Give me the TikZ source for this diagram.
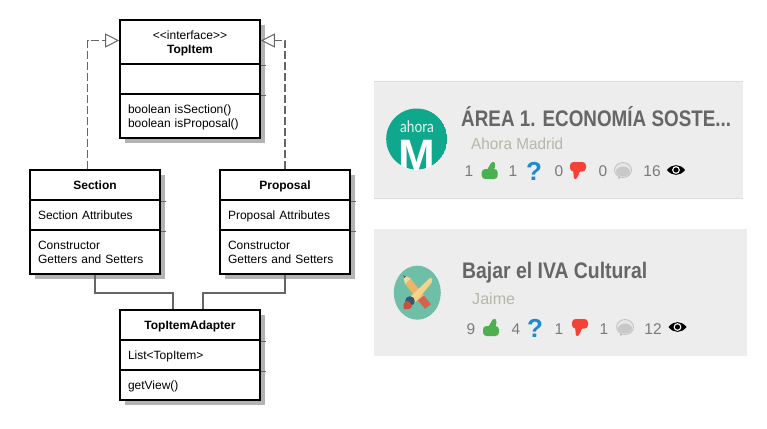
\documentclass[tikz,border=0pt]{standalone}
\usepackage{fontspec}
\usepackage{graphicx}
\setmainfont{Liberation Sans}
\newfontfamily\latofont{Lato}
\usetikzlibrary{arrows.meta,shadows,calc}
\definecolor{cardbg}{HTML}{EDEDED}
\definecolor{cardline}{HTML}{DCDCDC}
\definecolor{shadowgray}{HTML}{B3B3B3}
\definecolor{linkgray}{HTML}{666666}
\definecolor{titlegray}{HTML}{666666}
\definecolor{authorgray}{HTML}{B5B8A6}
\definecolor{statgray}{HTML}{7A7A7A}
\definecolor{upgreen}{HTML}{4CAF50}
\definecolor{askblue}{HTML}{1B8BCB}
\definecolor{downred}{HTML}{F44336}
\definecolor{ahoragreen}{HTML}{0FA88C}
\definecolor{jaimegreen}{HTML}{6FBFA8}
\definecolor{bubbleface}{HTML}{E6E6E6}
\definecolor{bubbleedge}{HTML}{BDBDBD}
\definecolor{bubbleinner}{HTML}{C8C8C8}
\definecolor{pencilbody}{HTML}{EDB46A}
\definecolor{pencilwood}{HTML}{F3D9A0}
\definecolor{pencilend}{HTML}{D8604E}
\definecolor{brushhandle}{HTML}{F5D38A}
\definecolor{brushnavy}{HTML}{3A5570}
\definecolor{brushred}{HTML}{C9503F}
\tikzset{
  x=1pt,y=-1pt,
  umlcell/.style={draw=black,line width=1.7pt,fill=white,inner xsep=8pt,inner ysep=0pt,
    minimum width=#1,text width=#1-16pt,font=\fontsize{12}{14}\selectfont,align=left,
    general shadow={fill=shadowgray,shadow xshift=5pt,shadow yshift=-5pt}},
  umlhead/.style={umlcell=#1,align=center},
  oneline/.style={text height=8.6pt,text depth=0pt},
  twolines/.style={text height=12pt,text depth=17pt},
  realizes/.style={draw=linkgray,line width=1.4pt,dash pattern=on 8pt off 3pt,
    -{Triangle[open,length=14pt,width=14pt,fill=white,line width=1pt]}},
  assoc/.style={draw=linkgray,line width=1.3pt},
  tick/.style={draw=linkgray,line width=.5pt},
  cardtitle/.style={anchor=base west,inner sep=0pt,text=titlegray,font=\fontsize{22.5}{26}\selectfont\bfseries},
  cardauthor/.style={anchor=base west,inner sep=0pt,text=authorgray,font=\fontsize{16}{18}\selectfont},
  stat/.style={anchor=base,inner sep=0pt,text=statgray,font=\fontsize{15.5}{18}\selectfont},
  ask/.style={anchor=base,inner sep=0pt,text=askblue,font=\fontsize{26}{28}\selectfont\bfseries},
  iconup/.pic={
    \fill[upgreen,rounded corners=3.5] (-8,-1.5) rectangle (8,8.5);
    \fill[upgreen,rounded corners=1] (-3,0) -- (2,-8.5) -- (5,-8.5) -- (5.5,-4) -- (4,0) -- cycle;
  },
  icondown/.pic={
    \fill[downred,rounded corners=3.5] (-8,-8.5) rectangle (8,1);
    \fill[downred,rounded corners=1] (-5,-1) -- (-4,8.5) -- (-1.5,8.5) -- (3,-1) -- cycle;
  },
  iconbubble/.pic={
    \fill[bubbleedge] (-4,4) -- (-5,9) -- (0,6) -- cycle;
    \draw[fill=bubbleface,draw=bubbleedge,line width=.7pt] (0,0) ellipse [x radius=8.5,y radius=7.5];
    \fill[bubbleinner] (0,1.5) ellipse [x radius=7,y radius=5];
  },
  iconeye/.pic={
    \fill[black] (-9,0) .. controls (-4,-6.5) and (4,-6.5) .. (9,0) .. controls (4,6.5) and (-4,6.5) .. (-9,0) -- cycle;
    \fill[white] (0,0) circle [radius=3.9];
    \fill[black] (0,0) circle [radius=2.6];
  },
}
\begin{document}
\begin{tikzpicture}
\useasboundingbox (0,0) rectangle (767,428);
\fill[white] (0,0) rectangle (767,428);
% cards
\fill[cardbg] (374,81) rectangle (743,199);
\draw[cardline,line width=1.2pt] (374,81.5) -- (743,81.5);
\draw[cardline,line width=1.6pt] (374,198.5) -- (743,198.5);
\fill[cardbg] (374,229) rectangle (747,356);
% UML classes
\node[umlhead=140pt,twolines,minimum height=44pt] (top-h) at (190,42) {<{}<interface>{}>\\\bfseries TopItem};
\node[umlcell=140pt,minimum height=30pt] (top-a) at (190,79) {};
\node[umlcell=140pt,twolines,minimum height=44pt] (top-m) at (190,116) {boolean isSection()\\boolean isProposal()};
\node[umlhead=130pt,oneline,minimum height=30pt] (sec-h) at (95,185) {\bfseries Section};
\node[umlcell=130pt,oneline,minimum height=30pt] (sec-a) at (95,215) {Section Attributes};
\node[umlcell=130pt,twolines,minimum height=44pt] (sec-m) at (95,252) {Constructor\\Getters and Setters};
\node[umlhead=130pt,oneline,minimum height=30pt] (pro-h) at (285,185) {\bfseries Proposal};
\node[umlcell=130pt,oneline,minimum height=30pt] (pro-a) at (285,215) {Proposal Attributes};
\node[umlcell=130pt,twolines,minimum height=44pt] (pro-m) at (285,252) {Constructor\\Getters and Setters};
\node[umlhead=140pt,oneline,minimum height=30pt] (ada-h) at (190,325) {\bfseries TopItemAdapter};
\node[umlcell=140pt,oneline,minimum height=30pt] (ada-a) at (190,355) {List<TopItem>};
\node[umlcell=140pt,oneline,minimum height=30pt] (ada-m) at (190,385) {getView()};
% shadow ticks
\foreach \n in {top-h,top-a,sec-h,sec-a,pro-h,pro-a,ada-h,ada-a}
  \draw[tick] (\n.south east) -- ++(5,0);
% connectors
\draw[realizes] ([xshift=-7.5pt]sec-h.north) |- ([yshift=1.5pt]top-h.west);
\draw[realizes] (pro-h.north) |- ([yshift=1.5pt]top-h.east);
\draw[assoc] (sec-m.south) -- ++(0,18) -| ([xshift=-17pt]ada-h.north);
\draw[assoc] (pro-m.south) -- ++(0,18) -| ([xshift=13pt]ada-h.north);
% card 1
\begin{scope}
  \clip (416.7,139) circle [radius=30.5];
  \fill[ahoragreen] (416.7,139) circle [radius=30.5];
  \node[anchor=base,inner sep=0pt,text=white,font=\fontsize{44}{46}\selectfont\bfseries] (ahoram) at (417,170) {M};
\end{scope}
\node[anchor=base,inner sep=0pt,text=white!88!ahoragreen,font=\fontsize{16}{18}\selectfont\latofont] (ahorat) at (417,132) {\resizebox{34pt}{\height}{ahora}};
\node[cardtitle] (t1) at (461,126.7) {\resizebox{270pt}{\height}{ÁREA 1. ECONOMÍA SOSTE...}};
\node[cardauthor] (a1) at (471,149.5) {\resizebox{92pt}{\height}{Ahora Madrid}};
\node[stat] (s11) at (469,176.7) {1};
\pic at (489.7,170.5) {iconup};
\node[stat] (s12) at (513,176.7) {1};
\node[ask] (q1) at (534,180) {?};
\node[stat] (s13) at (559,176.7) {0};
\pic at (578,170.5) {icondown};
\node[stat] (s14) at (603,176.7) {0};
\pic at (623,170) {iconbubble};
\node[stat] (s15) at (652,176.7) {16};
\pic at (676,170) {iconeye};
% card 2
\fill[jaimegreen] (417.3,292.7) ellipse [x radius=23.5,y radius=27];
\draw[line width=7.5pt,color=pencilbody] (408,281.5) -- (421,298);
\draw[line width=7.5pt,color=pencilend] (421,298) -- (428,306.5);
\fill[pencilwood] (403,275) -- (411,278.5) -- (405,284) -- cycle;
\fill[brushnavy] (403,275) -- (406,276.5) -- (404,278) -- cycle;
\fill[brushhandle,rounded corners=2] (431,277) -- (433,281) -- (415,303) -- (409,298) -- cycle;
\fill[brushnavy] (410,301) circle [radius=4.8];
\fill[brushred] (404,309) .. controls (402,304) and (405,301) .. (408,301) .. controls (411,303) and (413,306) .. (411,308) .. controls (408,310) and (406,309) .. (404,309) -- cycle;
\node[cardtitle] (t2) at (462,278) {\resizebox{185pt}{\height}{Bajar el IVA Cultural}};
\node[cardauthor] (a2) at (472,304) {\resizebox{43pt}{\height}{Jaime}};
\node[stat] (s21) at (471,334) {9};
\pic at (491,327.5) {iconup};
\node[stat] (s22) at (516,334) {4};
\node[ask] (q2) at (535,337.5) {?};
\node[stat] (s23) at (559,334) {1};
\pic at (580,327.5) {icondown};
\node[stat] (s24) at (604,334) {1};
\pic at (625,327) {iconbubble};
\node[stat] (s25) at (653,334) {12};
\pic at (677.5,327) {iconeye};
\end{tikzpicture}
\end{document}
